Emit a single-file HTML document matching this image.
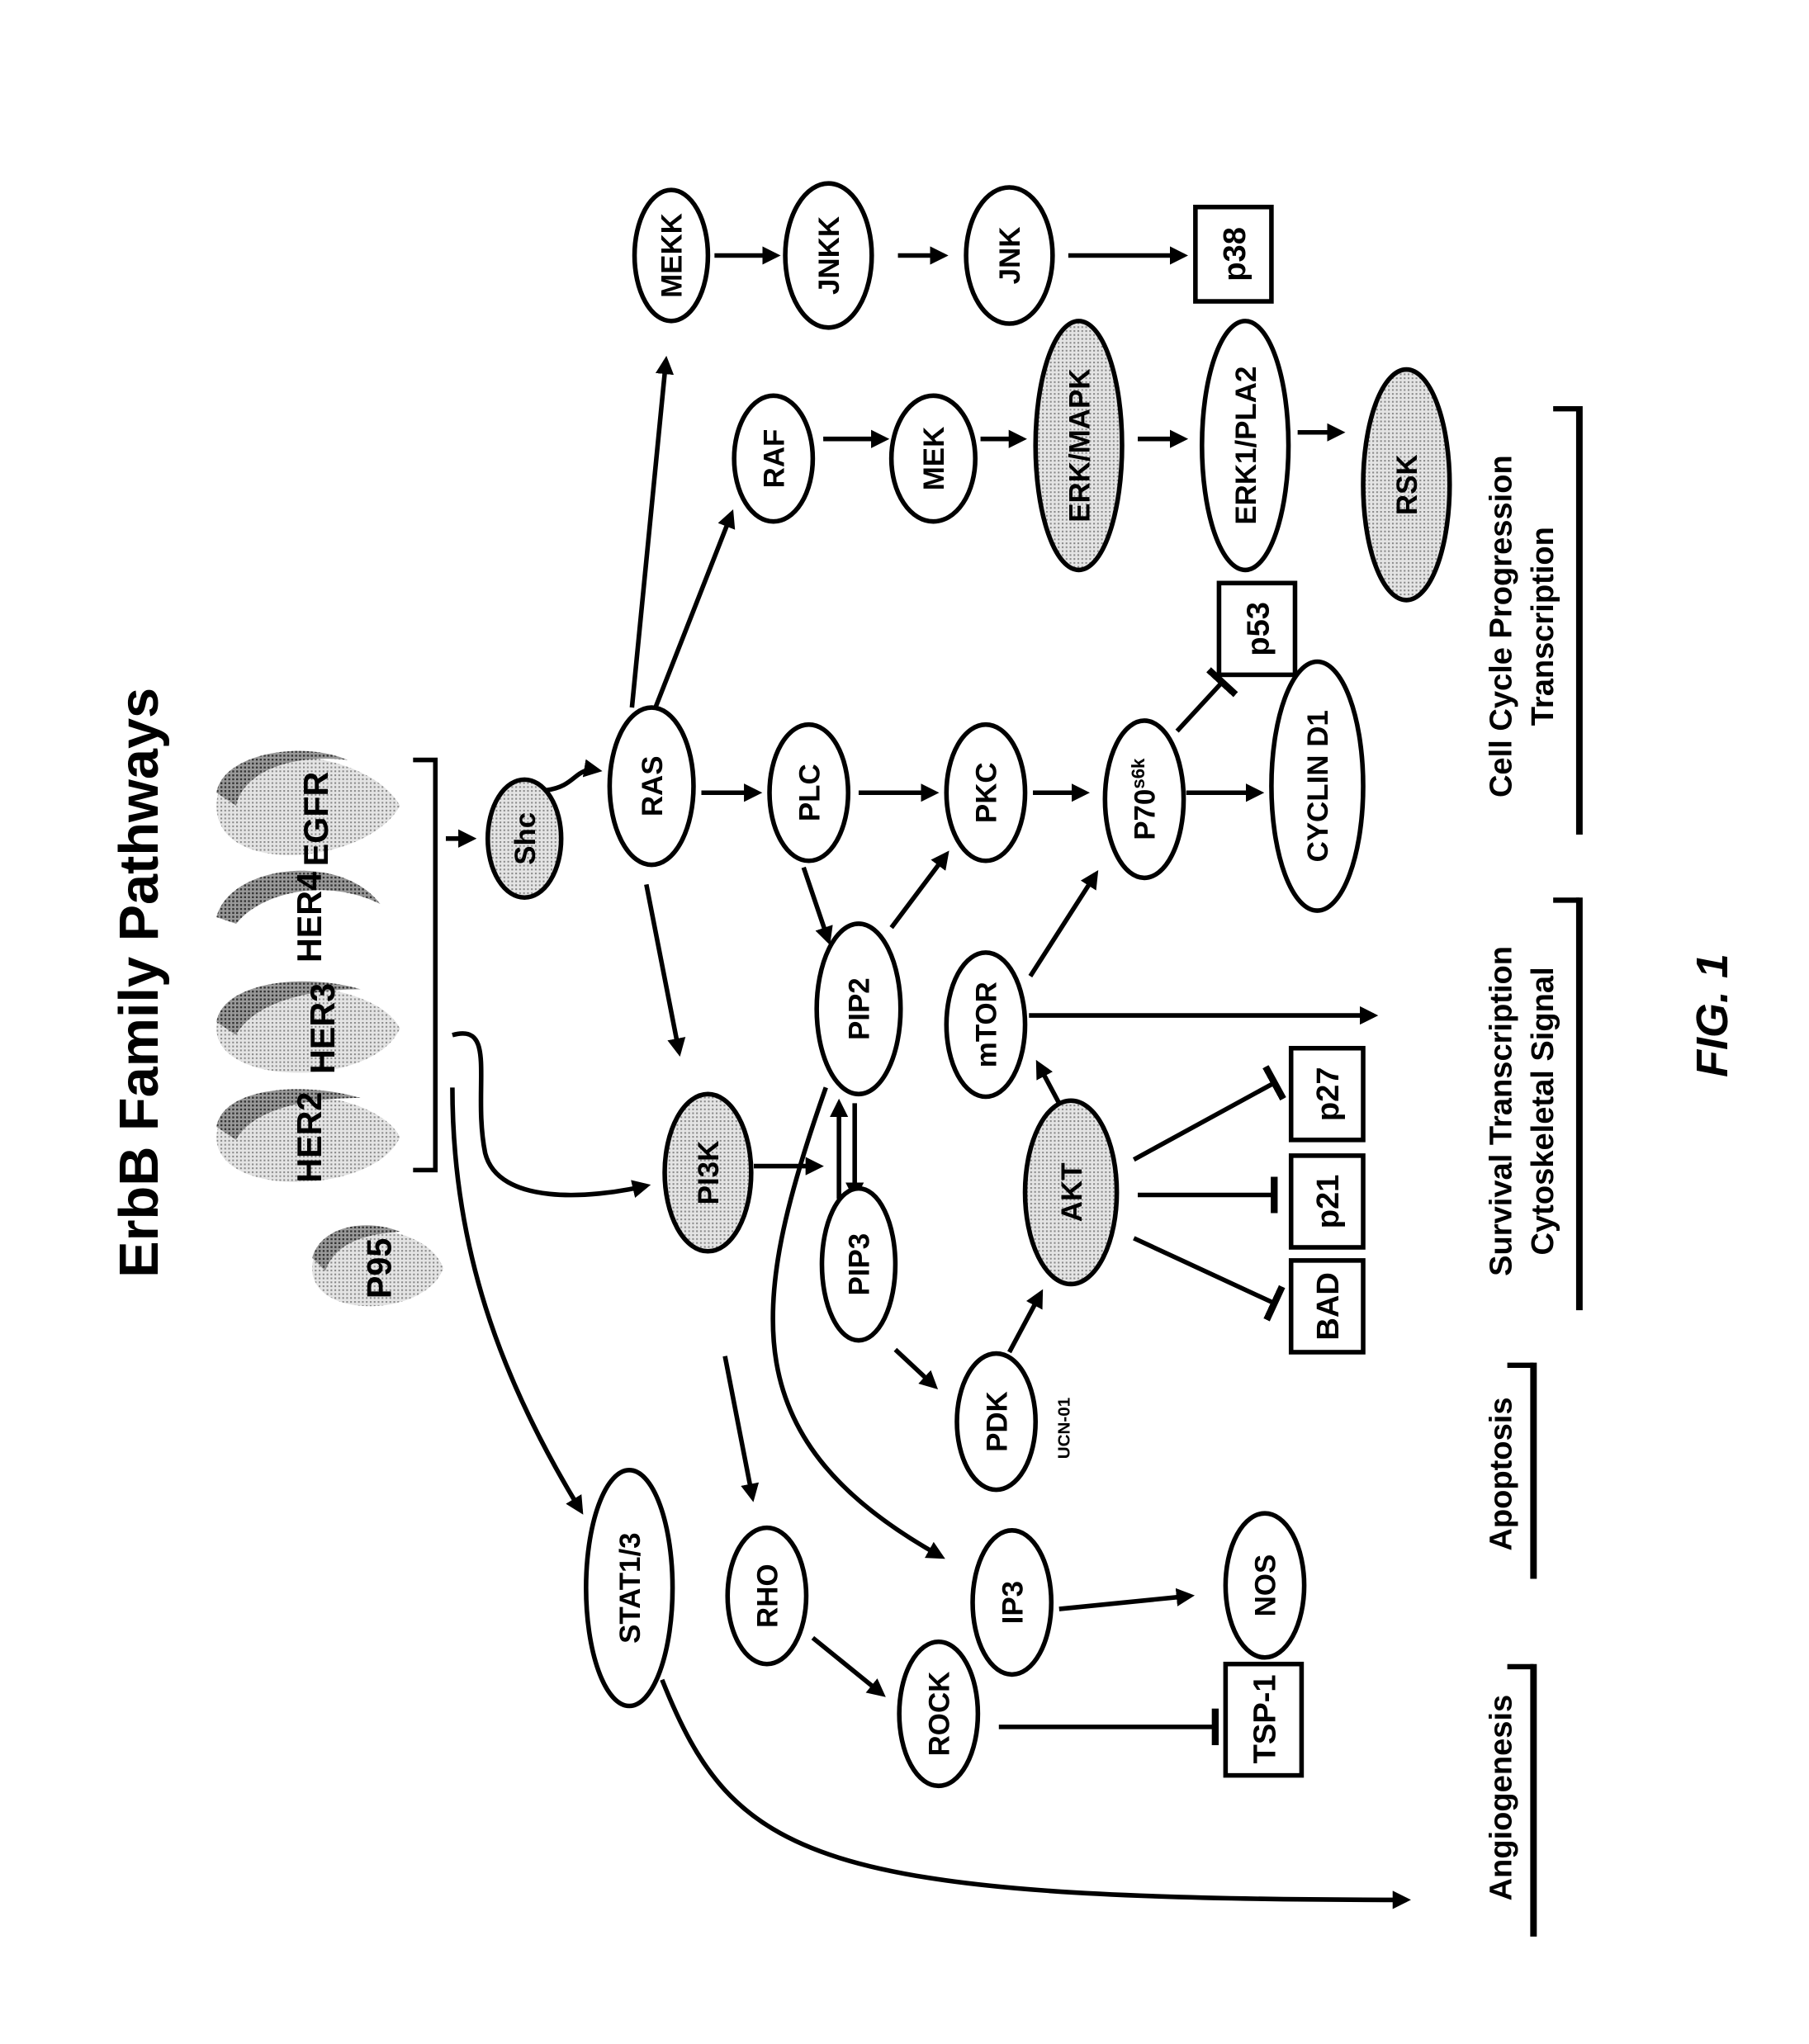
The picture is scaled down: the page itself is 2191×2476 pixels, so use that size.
<!DOCTYPE html>
<html><head><meta charset="utf-8"><style>
html,body{margin:0;padding:0;background:#fff}
svg{display:block}
text{font-family:"Liberation Sans",Arial,sans-serif;font-weight:bold;fill:#000}
</style></head><body>
<svg width="2191" height="2476" viewBox="0 0 1380 1560" xmlns="http://www.w3.org/2000/svg">
<defs>
<pattern id="dots" width="3" height="3" patternUnits="userSpaceOnUse"><rect width="3" height="3" fill="#e4e4e4"/><rect width="1.3" height="1.3" fill="#888"/></pattern>
<pattern id="dark" width="3" height="3" patternUnits="userSpaceOnUse"><rect width="3" height="3" fill="#999"/><rect width="1.5" height="1.5" fill="#333"/></pattern>
<marker id="ah" markerWidth="4" markerHeight="4" refX="3" refY="2" orient="auto" markerUnits="strokeWidth"><path d="M0,0 L4,2 L0,4 z" fill="#000"/></marker>
<marker id="tb" markerWidth="2" markerHeight="8" refX="1" refY="4" orient="auto" markerUnits="strokeWidth"><rect x="0" y="0" width="1.5" height="8" fill="#000"/></marker>
</defs>
<g stroke="#000" stroke-width="3.5" fill="none">
<!-- arrows -->
<line x1="545" y1="195" x2="592" y2="195" marker-end="url(#ah)"/>
<line x1="685" y1="195" x2="720" y2="195" marker-end="url(#ah)"/>
<line x1="815" y1="195" x2="903" y2="195" marker-end="url(#ah)"/>
<line x1="628" y1="335" x2="675" y2="335" marker-end="url(#ah)"/>
<line x1="748" y1="335" x2="780" y2="335" marker-end="url(#ah)"/>
<line x1="868" y1="335" x2="903" y2="335" marker-end="url(#ah)"/>
<line x1="990" y1="330" x2="1023" y2="330" marker-end="url(#ah)"/>
<line x1="482" y1="540" x2="508" y2="275" marker-end="url(#ah)"/>
<line x1="498" y1="545" x2="558" y2="392" marker-end="url(#ah)"/>
<path d="M417,603 C440,600 438,585 456,588" marker-end="url(#ah)"/>
<line x1="535" y1="605" x2="578" y2="605" marker-end="url(#ah)"/>
<line x1="655" y1="605" x2="713" y2="605" marker-end="url(#ah)"/>
<line x1="788" y1="605" x2="828" y2="605" marker-end="url(#ah)"/>
<line x1="905" y1="605" x2="961" y2="605" marker-end="url(#ah)"/>
<line x1="898" y1="558" x2="933" y2="520" marker-end="url(#tb)"/>
<line x1="613" y1="662" x2="632" y2="718" marker-end="url(#ah)"/>
<line x1="680" y1="708" x2="722" y2="652" marker-end="url(#ah)"/>
<line x1="493" y1="675" x2="518" y2="803" marker-end="url(#ah)"/>
<line x1="786" y1="745" x2="836" y2="667" marker-end="url(#ah)"/>
<line x1="785" y1="775" x2="1048" y2="775" marker-end="url(#ah)"/>
<line x1="808" y1="842" x2="792" y2="812" marker-end="url(#ah)"/>
<line x1="575" y1="890" x2="625" y2="890" marker-end="url(#ah)"/>
<line x1="640" y1="915" x2="640" y2="842" marker-end="url(#ah)"/>
<line x1="652" y1="842" x2="652" y2="913" marker-end="url(#ah)"/>
<line x1="683" y1="1030" x2="713" y2="1058" marker-end="url(#ah)"/>
<line x1="770" y1="1032" x2="794" y2="987" marker-end="url(#ah)"/>
<line x1="865" y1="885" x2="973" y2="826" marker-end="url(#tb)"/>
<line x1="868" y1="912" x2="973" y2="912" marker-end="url(#tb)"/>
<line x1="865" y1="945" x2="973" y2="995" marker-end="url(#tb)"/>
<path d="M345,790 C380,780 360,830 370,880 C380,920 450,915 493,905" marker-end="url(#ah)"/>
<path d="M345,830 C345,950 380,1050 443,1153" marker-end="url(#ah)"/>
<path d="M630,830 C570,1000 560,1100 718,1188" marker-end="url(#ah)"/>
<line x1="553" y1="1035" x2="574" y2="1143" marker-end="url(#ah)"/>
<line x1="620" y1="1250" x2="673" y2="1293" marker-end="url(#ah)"/>
<line x1="808" y1="1228" x2="908" y2="1218" marker-end="url(#ah)"/>
<line x1="762" y1="1318" x2="928" y2="1318" marker-end="url(#tb)"/>
<path d="M505,1282 C560,1420 620,1450 1073,1450" marker-end="url(#ah)"/>
<!-- bracket -->
<path d="M315,580 H332 V893 H315"/>
<line x1="340" y1="640" x2="360" y2="640" marker-end="url(#ah)"/>
<!-- side bars -->
<line x1="1205" y1="310" x2="1205" y2="637" stroke-width="5"/>
<line x1="1185" y1="312" x2="1205" y2="312" stroke-width="4"/>
<line x1="1205" y1="685" x2="1205" y2="1000" stroke-width="5"/>
<line x1="1185" y1="687" x2="1205" y2="687" stroke-width="4"/>
<line x1="1170" y1="1040" x2="1170" y2="1205" stroke-width="5"/>
<line x1="1150" y1="1042" x2="1170" y2="1042" stroke-width="4"/>
<line x1="1170" y1="1270" x2="1170" y2="1478" stroke-width="5"/>
<line x1="1150" y1="1272" x2="1170" y2="1272" stroke-width="4"/>
</g>
<!-- receptors -->
<g stroke="none">
<path d="M165,615 C165,560 280,570 305,615 C280,660 165,670 165,615z" fill="url(#dots)"/>
<path d="M165,605 C170,575 230,565 265,580 C220,575 185,590 180,615z" fill="url(#dark)"/>
<path d="M165,700 C175,660 260,650 290,690 C250,670 200,680 180,705z" fill="url(#dark)"/>
<path d="M165,785 C165,740 285,745 305,785 C285,830 165,830 165,785z" fill="url(#dots)"/>
<path d="M165,780 C170,750 230,742 275,755 C225,755 190,770 180,790z" fill="url(#dark)"/>
<path d="M165,868 C165,822 285,828 305,868 C285,912 165,915 165,868z" fill="url(#dots)"/>
<path d="M165,860 C170,830 230,825 275,838 C225,838 190,850 180,870z" fill="url(#dark)"/>
<path d="M238,968 C238,928 325,930 338,968 C325,1005 238,1008 238,968z" fill="url(#dots)"/>
<path d="M238,960 C245,935 280,930 305,940 C275,942 255,950 248,970z" fill="url(#dark)"/>
</g>
<g font-size="26">
<text transform="translate(250,625) rotate(-90)" text-anchor="middle" dy="0" x="0" y="0" >EGFR</text>
</g>
<g stroke="#000" stroke-width="3.5">
<ellipse cx="512" cy="195" rx="28" ry="50" fill="#fff"/>
<ellipse cx="632" cy="195" rx="33" ry="55" fill="#fff"/>
<ellipse cx="770" cy="195" rx="33" ry="52" fill="#fff"/>
<rect x="912" y="158" width="58" height="72" fill="#fff"/>
<ellipse cx="590" cy="350" rx="30" ry="48" fill="#fff"/>
<ellipse cx="712" cy="350" rx="32" ry="48" fill="#fff"/>
<ellipse cx="823" cy="340" rx="33" ry="95" fill="url(#dots)"/>
<ellipse cx="950" cy="340" rx="33" ry="95" fill="#fff"/>
<ellipse cx="1073" cy="370" rx="33" ry="88" fill="url(#dots)"/>
<rect x="930" y="445" width="58" height="70" fill="#fff"/>
<ellipse cx="400" cy="640" rx="28" ry="45" fill="url(#dots)"/>
<ellipse cx="497" cy="600" rx="32" ry="60" fill="#fff"/>
<ellipse cx="617" cy="605" rx="30" ry="52" fill="#fff"/>
<ellipse cx="752" cy="605" rx="30" ry="52" fill="#fff"/>
<ellipse cx="873" cy="610" rx="30" ry="60" fill="#fff"/>
<ellipse cx="1005" cy="600" rx="35" ry="95" fill="#fff"/>
<ellipse cx="655" cy="770" rx="32" ry="65" fill="#fff"/>
<ellipse cx="752" cy="782" rx="30" ry="55" fill="#fff"/>
<ellipse cx="540" cy="895" rx="33" ry="60" fill="url(#dots)"/>
<ellipse cx="655" cy="965" rx="28" ry="58" fill="#fff"/>
<ellipse cx="817" cy="910" rx="35" ry="70" fill="url(#dots)"/>
<rect x="985" y="800" width="55" height="70" fill="#fff"/>
<rect x="985" y="882" width="55" height="70" fill="#fff"/>
<rect x="985" y="962" width="55" height="70" fill="#fff"/>
<ellipse cx="760" cy="1085" rx="30" ry="52" fill="#fff"/>
<ellipse cx="480" cy="1212" rx="33" ry="90" fill="#fff"/>
<ellipse cx="585" cy="1218" rx="30" ry="52" fill="#fff"/>
<ellipse cx="772" cy="1223" rx="30" ry="55" fill="#fff"/>
<ellipse cx="965" cy="1210" rx="30" ry="55" fill="#fff"/>
<ellipse cx="716" cy="1308" rx="30" ry="55" fill="#fff"/>
<rect x="935" y="1270" width="58" height="85" fill="#fff"/>
</g>
<g font-size="22" text-anchor="middle">
<text transform="translate(520,195) rotate(-90)">MEKK</text>
<text transform="translate(640,195) rotate(-90)">JNKK</text>
<text transform="translate(778,195) rotate(-90)">JNK</text>
<text transform="translate(950,194) rotate(-90)" font-size="24">p38</text>
<text transform="translate(598,350) rotate(-90)">RAF</text>
<text transform="translate(720,350) rotate(-90)">MEK</text>
<text transform="translate(831,340) rotate(-90)">ERK/MAPK</text>
<text transform="translate(958,340) rotate(-90)">ERK1/PLA2</text>
<text transform="translate(1081,370) rotate(-90)">RSK</text>
<text transform="translate(968,480) rotate(-90)" font-size="24">p53</text>
<text transform="translate(408,640) rotate(-90)">Shc</text>
<text transform="translate(505,600) rotate(-90)">RAS</text>
<text transform="translate(625,605) rotate(-90)">PLC</text>
<text transform="translate(760,605) rotate(-90)">PKC</text>
<text transform="translate(881,610) rotate(-90)">P70<tspan font-size="14" dy="-8">s6k</tspan></text>
<text transform="translate(1013,600) rotate(-90)">CYCLIN D1</text>
<text transform="translate(663,770) rotate(-90)">PIP2</text>
<text transform="translate(760,782) rotate(-90)">mTOR</text>
<text transform="translate(548,895) rotate(-90)">PI3K</text>
<text transform="translate(663,965) rotate(-90)">PIP3</text>
<text transform="translate(825,910) rotate(-90)">AKT</text>
<text transform="translate(1021,835) rotate(-90)" font-size="24">p27</text>
<text transform="translate(1021,917) rotate(-90)" font-size="24">p21</text>
<text transform="translate(1021,997) rotate(-90)" font-size="24">BAD</text>
<text transform="translate(768,1085) rotate(-90)">PDK</text>
<text transform="translate(816,1090) rotate(-90)" font-size="13">UCN-01</text>
<text transform="translate(488,1212) rotate(-90)">STAT1/3</text>
<text transform="translate(593,1218) rotate(-90)">RHO</text>
<text transform="translate(780,1223) rotate(-90)">IP3</text>
<text transform="translate(973,1210) rotate(-90)">NOS</text>
<text transform="translate(724,1308) rotate(-90)">ROCK</text>
<text transform="translate(973,1312) rotate(-90)" font-size="24">TSP-1</text>
<text transform="translate(245,700) rotate(-90)" font-size="26">HER4</text>
<text transform="translate(255,785) rotate(-90)" font-size="26">HER3</text>
<text transform="translate(245,868) rotate(-90)" font-size="26">HER2</text>
<text transform="translate(298,968) rotate(-90)" font-size="26">P95</text>
</g>
<g text-anchor="middle">
<text transform="translate(120,750) rotate(-90)" font-size="42">ErbB Family Pathways</text>
<text transform="translate(1153,478) rotate(-90)" font-size="24">Cell Cycle Progression</text>
<text transform="translate(1185,478) rotate(-90)" font-size="24">Transcription</text>
<text transform="translate(1153,848) rotate(-90)" font-size="24">Survival Transcription</text>
<text transform="translate(1185,848) rotate(-90)" font-size="24">Cytoskeletal Signal</text>
<text transform="translate(1153,1125) rotate(-90)" font-size="24">Apoptosis</text>
<text transform="translate(1153,1372) rotate(-90)" font-size="24">Angiogenesis</text>
<text transform="translate(1318,775) rotate(-90)" font-size="34" font-style="italic">FIG. 1</text>
</g>
</svg>
</body></html>
